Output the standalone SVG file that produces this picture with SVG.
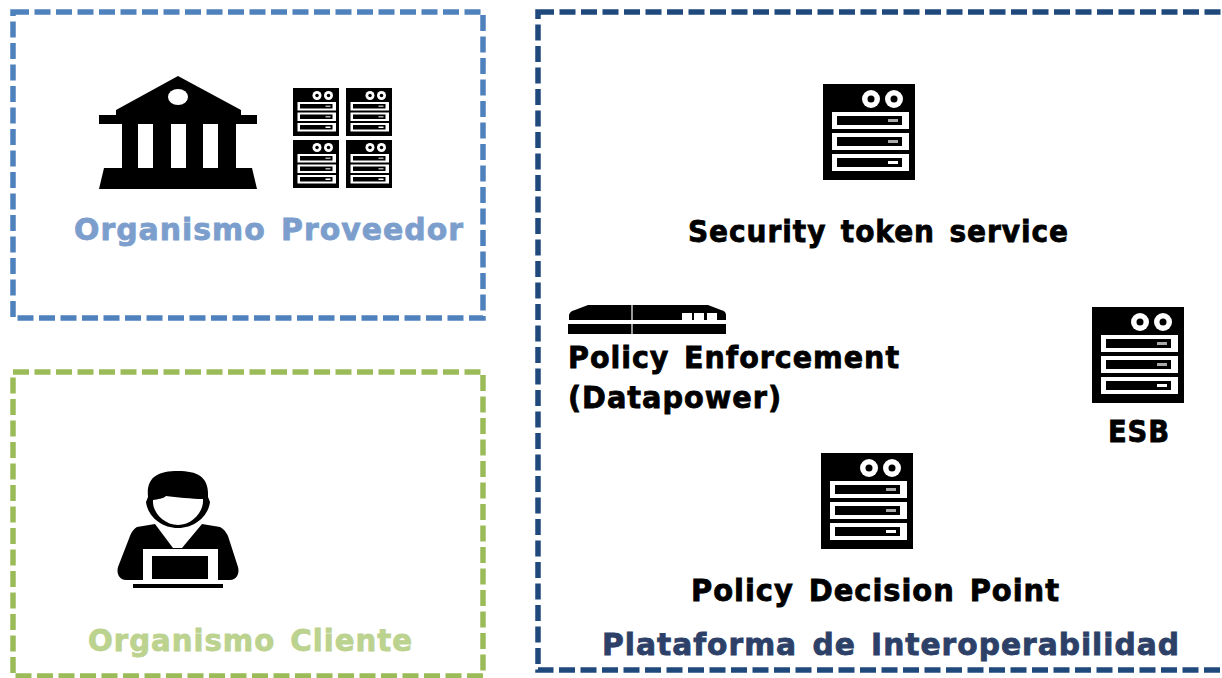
<svg xmlns="http://www.w3.org/2000/svg" width="1222" height="678" viewBox="0 0 1222 678">
<style>
.box{fill:none;stroke-width:5.5;stroke-dasharray:16 5.5}
.t{font-family:"DejaVu Sans","Liberation Sans",sans-serif;font-weight:700;font-size:30px;letter-spacing:1px;word-spacing:4px;fill:#000;stroke:#000;stroke-width:.8px}
.i{filter:url(#soft)}
</style>
<defs>
<filter id="soft" x="-5%" y="-5%" width="110%" height="110%"><feGaussianBlur stdDeviation="0.6"/></filter>
<symbol id="srv" viewBox="0 0 92 96">
<rect width="92" height="96" fill="#000"/>
<g fill="#fff"><circle cx="48" cy="15" r="9"/><circle cx="71" cy="15" r="9"/>
<rect x="9" y="28" width="77" height="17"/><rect x="9" y="49" width="77" height="17"/><rect x="9" y="70" width="77" height="17"/></g>
<g fill="#000"><circle cx="48" cy="15" r="3.5"/><circle cx="71" cy="15" r="3.5"/>
<rect x="14" y="32" width="65" height="9"/><rect x="14" y="53" width="65" height="9"/><rect x="14" y="74" width="65" height="9"/></g>
<g fill="#aaa"><rect x="65" y="35" width="10" height="3"/><rect x="65" y="56" width="10" height="3"/><rect x="65" y="77" width="10" height="3" fill="#fff"/></g>
</symbol>
</defs>
<rect width="1222" height="678" fill="#fff"/>
<g id="connectors"></g>
<g id="proveedor">
<rect class="box" x="13" y="12" width="470" height="306" stroke="#4f81bd"/>
<g class="i">
<path d="M178 76L241 110V115H257V124H236V168H252L257 189H99L104 168H122V124H99V115H116V110Z" fill="#000"/>
<g fill="#fff"><rect x="138" y="124" width="15" height="44"/><rect x="171" y="124" width="15" height="44"/><rect x="203" y="124" width="15" height="44"/><ellipse cx="178" cy="97" rx="10" ry="8"/></g>
<use href="#srv" x="293" y="88" width="46" height="48"/>
<use href="#srv" x="346" y="88" width="46" height="48"/>
<use href="#srv" x="293" y="140" width="46" height="48"/>
<use href="#srv" x="346" y="140" width="46" height="48"/>
</g>
<text class="t" x="74" y="240" textLength="390" lengthAdjust="spacingAndGlyphs" style="fill:#7c9ecd;stroke:#7c9ecd">Organismo Proveedor</text>
</g>
<g id="cliente">
<rect class="box" x="13" y="372" width="470" height="304" stroke="#9bbb59"/>
<g class="i">
<path d="M137 527L155 524L173 548H182L202 524L220 527C224 529 226 532 228 536L238 567C240 574 236 580 230 580H126C120 580 116 574 118 567L130 536C132 531 134 529 137 527Z" fill="#000"/>
<path d="M148 497C146 477 158 471 178 471C198 471 209 477 208 497L210 502C208 517 194 528 178 528C162 528 148 517 146 502Z" fill="#000"/>
<path d="M153 500C158 499 163 499 166 496C176 497 192 499 203 499C204 512 192 525 178 525C164 525 152 512 153 500Z" fill="#fff"/>
<rect x="143" y="549" width="75" height="33" fill="#fff"/>
<rect x="152" y="556" width="56" height="23" fill="#000"/>
<rect x="133" y="584" width="90" height="4" fill="#000"/>
</g>
<text class="t" x="88" y="651" textLength="325" lengthAdjust="spacingAndGlyphs" style="fill:#bcd28f;stroke:#bcd28f">Organismo Cliente</text>
</g>
<g id="plataforma">
<rect class="box" x="538" y="12" width="700" height="658" stroke="#1f497d"/>
<text class="t" x="602" y="655" textLength="578" lengthAdjust="spacingAndGlyphs" style="fill:#2c4068;stroke:#2c4068">Plataforma de Interoperabilidad</text>
</g>
<g id="sts">
<use class="i" href="#srv" x="823" y="84" width="92" height="96"/>
<text class="t" x="688" y="242" textLength="381" lengthAdjust="spacingAndGlyphs">Security token service</text>
</g>
<g id="pep">
<g class="i">
<path d="M569 320V315Q570 311 575 310L588 305H708L721 310Q726 311 726 315V320Z" fill="#000"/>
<rect x="568" y="324" width="158" height="10" fill="#000"/>
<path d="M632 305V334" stroke="#fff" stroke-width="1.2"/>
<g fill="#fff"><rect x="682" y="313" width="10" height="7"/><rect x="694" y="313" width="10" height="7"/><rect x="707" y="313" width="10" height="7"/></g>
</g>
<text class="t" x="568" y="368" textLength="332" lengthAdjust="spacingAndGlyphs">Policy Enforcement</text>
<text class="t" x="568" y="408" textLength="214" lengthAdjust="spacingAndGlyphs">(Datapower)</text>
</g>
<g id="esb">
<use class="i" href="#srv" x="1092" y="307" width="92" height="96"/>
<text class="t" x="1108" y="442" textLength="62" lengthAdjust="spacingAndGlyphs">ESB</text>
</g>
<g id="pdp">
<use class="i" href="#srv" x="821" y="453" width="92" height="96"/>
<text class="t" x="691" y="601" textLength="369" lengthAdjust="spacingAndGlyphs">Policy Decision Point</text>
</g>
</svg>
